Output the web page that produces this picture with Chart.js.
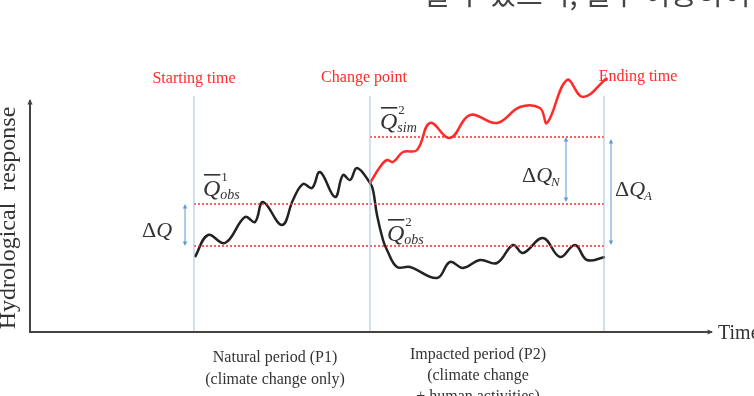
<!DOCTYPE html>
<html>
<head>
<meta charset="utf-8">
<script src="https://cdn.jsdelivr.net/npm/chart.js@4"></script>
<style>
  html, body { margin: 0; padding: 0; background: #fff; overflow: hidden; }
  canvas { display: block; }
</style>
</head>
<body>
<canvas id="chart" width="754" height="396"></canvas>
<script>
// observed series (black), time vs response
const obsTime = [165, 178, 195, 215, 225, 233, 252, 263, 273, 282, 290, 305, 313, 320, 327, 340,
                 343, 347, 353, 357, 367, 380, 407, 420, 433, 450, 467, 483, 493, 513, 530, 545, 557, 575];
const obsValues = [75, 97, 89, 115, 110, 130, 107, 132, 148, 144, 160, 135, 157, 152, 164, 149,
                   142, 117, 92, 82, 65, 65, 54, 70, 64, 72, 69, 87, 79, 94, 75, 87, 72, 75];

// simulated series (red), after the change point
const simTime = [340, 350, 357, 363, 373, 387, 400, 420, 440, 467, 490, 510, 517, 537, 553, 577];
const simValues = [149, 165, 172, 170, 180, 182, 209, 194, 217, 209, 225, 224, 209, 252, 235, 254];

// period markers
const startTime = 164;
const changeTime = 340;
const endTime = 574;
const markerTop = 236;

// mean levels
const meanObs1 = 128;
const meanObs2 = 86;
const meanSim2 = 195;

const axisTimeMax = 682;
const axisRespMax = 232;

const red = '#ff2a2a';
const blue = '#9cc2e5';
const arrowBlue = '#5b9bd5';
const serif = '"Liberation Serif", "DejaVu Serif", serif';

function segment(x0, x1, y0, y1) {
    return [{ x: x0, y: y0 }, { x: x1, y: y1 }];
}

const datasets = [
    { data: segment(startTime, startTime, 0, markerTop), borderColor: blue, borderWidth: 1 },
    { data: segment(changeTime, changeTime, 0, markerTop), borderColor: blue, borderWidth: 1 },
    { data: segment(endTime, endTime, 0, markerTop), borderColor: blue, borderWidth: 1 },
    { data: segment(startTime, endTime, meanObs1, meanObs1), borderColor: red, borderWidth: 1.5, borderDash: [2, 2] },
    { data: segment(startTime, endTime, meanObs2, meanObs2), borderColor: red, borderWidth: 1.5, borderDash: [2, 2] },
    { data: segment(changeTime, endTime, meanSim2, meanSim2), borderColor: red, borderWidth: 1.5, borderDash: [2, 2] },
    { data: simTime.map((t, i) => ({ x: t, y: simValues[i] })), borderColor: red, borderWidth: 2.5, tension: 0.4 },
    { data: obsTime.map((t, i) => ({ x: t, y: obsValues[i] })), borderColor: '#222', borderWidth: 2.5, tension: 0.4 }
];

function arrowHead(ctx, x, y, dir, size) {
    // dir: angle in radians the arrow points to
    ctx.beginPath();
    ctx.moveTo(x, y);
    ctx.lineTo(x - size * Math.cos(dir - 0.45), y - size * Math.sin(dir - 0.45));
    ctx.lineTo(x - size * Math.cos(dir + 0.45), y - size * Math.sin(dir + 0.45));
    ctx.closePath();
    ctx.fill();
}

function doubleArrow(ctx, x, y0, y1, color) {
    ctx.strokeStyle = color;
    ctx.fillStyle = color;
    ctx.lineWidth = 1;
    ctx.beginPath();
    ctx.moveTo(x, y0 + 2);
    ctx.lineTo(x, y1 - 2);
    ctx.stroke();
    arrowHead(ctx, x, y0, -Math.PI / 2, 5);
    arrowHead(ctx, x, y1, Math.PI / 2, 5);
}

// Q with bar, superscript and subscript
function qLabel(ctx, x, y, sup, sub) {
    ctx.fillStyle = '#333';
    ctx.font = 'italic 24px ' + serif;
    ctx.textAlign = 'left';
    ctx.textBaseline = 'alphabetic';
    ctx.fillText('Q', x, y);
    const w = ctx.measureText('Q').width;
    ctx.fillRect(x + 1, y - 22, w - 1, 1.6);
    ctx.font = '13px ' + serif;
    ctx.fillText(sup, x + w + 1, y - 15);
    ctx.font = 'italic 14px ' + serif;
    ctx.fillText(sub, x + w, y + 3);
}

function deltaLabel(ctx, x, y, sub) {
    ctx.fillStyle = '#333';
    ctx.textAlign = 'left';
    ctx.textBaseline = 'alphabetic';
    ctx.font = '22px ' + serif;
    ctx.fillText('Δ', x, y);
    let w = ctx.measureText('Δ').width;
    ctx.font = 'italic 22px ' + serif;
    ctx.fillText('Q', x + w, y);
    w += ctx.measureText('Q').width;
    if (sub) {
        ctx.font = 'italic 13px ' + serif;
        ctx.fillText(sub, x + w - 1, y + 4);
    }
}

const decorations = {
    id: 'decorations',
    afterDatasetsDraw(chart) {
        const ctx = chart.ctx;
        const sx = chart.scales.x;
        const sy = chart.scales.y;
        const px = v => sx.getPixelForValue(v);
        const py = v => sy.getPixelForValue(v);
        ctx.save();

        // axes
        ctx.strokeStyle = '#444';
        ctx.fillStyle = '#444';
        ctx.lineWidth = 2;
        ctx.beginPath();
        ctx.moveTo(px(0), py(axisRespMax));
        ctx.lineTo(px(0), py(0));
        ctx.lineTo(px(axisTimeMax), py(0));
        ctx.stroke();
        arrowHead(ctx, px(0), py(axisRespMax) - 1, -Math.PI / 2, 6);
        arrowHead(ctx, px(axisTimeMax) + 1, py(0), 0, 6);

        // delta arrows
        doubleArrow(ctx, px(155), py(meanObs1), py(meanObs2), arrowBlue);
        doubleArrow(ctx, px(536), py(meanSim2), py(meanObs1 + 2), arrowBlue);
        doubleArrow(ctx, px(581), py(meanSim2 - 2), py(meanObs2 + 1), arrowBlue);

        // red period labels
        ctx.fillStyle = red;
        ctx.font = '16px ' + serif;
        ctx.textAlign = 'center';
        ctx.textBaseline = 'alphabetic';
        ctx.fillText('Starting time', px(startTime), 83);
        ctx.fillText('Change point', px(changeTime - 6), 82);
        ctx.fillText('Ending time', px(endTime + 34), 81);

        // math labels
        qLabel(ctx, px(173), 196, '1', 'obs');
        qLabel(ctx, px(350), 129, '2', 'sim');
        qLabel(ctx, px(357), 241, '2', 'obs');
        deltaLabel(ctx, px(112), 237, '');
        deltaLabel(ctx, px(492), 182, 'N');
        deltaLabel(ctx, px(585), 196, 'A');

        // axis titles
        ctx.fillStyle = '#333';
        ctx.font = '20px ' + serif;
        ctx.textAlign = 'left';
        ctx.fillText('Time', px(axisTimeMax) + 6, py(0) + 7);
        ctx.save();
        ctx.translate(15, 218);
        ctx.rotate(-Math.PI / 2);
        ctx.textAlign = 'center';
        ctx.font = '24px ' + serif;
        ctx.fillText('Hydrological  response', 0, 0);
        ctx.restore();

        // period descriptions
        ctx.font = '16px ' + serif;
        ctx.textAlign = 'center';
        ctx.fillText('Natural period (P1)', px(245), 362);
        ctx.fillText('(climate change only)', px(245), 384);
        ctx.fillText('Impacted period (P2)', px(448), 359);
        ctx.fillText('(climate change', px(448), 380);
        ctx.fillText('+ human activities)', px(448), 401);

        // clipped caption text at the top
        ctx.font = '29px "Noto Sans CJK KR", sans-serif';
        ctx.textAlign = 'left';
        ctx.fillStyle = '#444';
        ctx.fillText('될 수 있으며, 될수 이용하여', 423, 5);

        ctx.restore();
    }
};

new Chart(document.getElementById('chart'), {
    type: 'line',
    data: { datasets: datasets },
    options: {
        responsive: false,
        animation: false,
        events: [],
        layout: { padding: 0 },
        elements: { point: { radius: 0 } },
        scales: {
            x: { type: 'linear', min: -30, max: 724, display: false },
            y: { type: 'linear', min: -64, max: 332, display: false }
        },
        plugins: {
            legend: { display: false },
            tooltip: { enabled: false }
        }
    },
    plugins: [decorations]
});
</script>
</body>
</html>
